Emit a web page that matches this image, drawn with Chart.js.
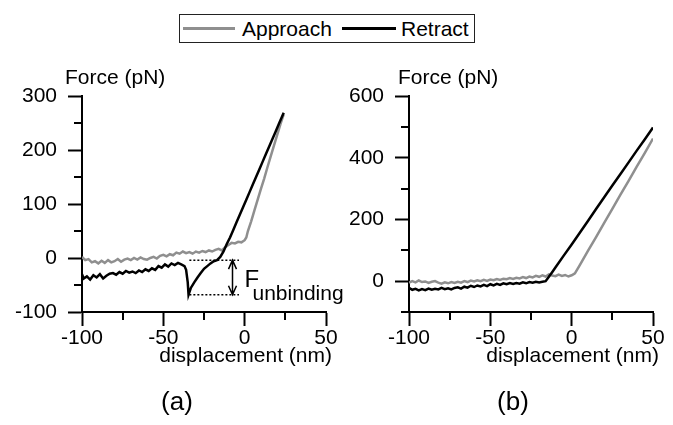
<!DOCTYPE html>
<html>
<head>
<meta charset="utf-8">
<script src="https://cdn.jsdelivr.net/npm/chart.js@4/dist/chart.umd.min.js"></script>
<style>
html,body{margin:0;padding:0;background:#fff;width:673px;height:425px;overflow:hidden;font-family:"Liberation Sans",Arial,sans-serif;}
#cA{position:absolute;left:0;top:0;}
#cB{position:absolute;left:340px;top:0;}
#legend{position:absolute;left:179px;top:14px;width:296px;height:29px;box-sizing:border-box;border:1.5px solid #222;background:#fff;}
#legend .sw{position:absolute;top:12px;height:3px;}
#legend .lt{position:absolute;top:1px;font-size:21px;line-height:26px;color:#000;white-space:nowrap;}
</style>
</head>
<body>
<canvas id="cA" width="360" height="425"></canvas>
<canvas id="cB" width="333" height="425"></canvas>
<div id="legend">
  <span class="sw" style="left:3px;width:52px;background:#8f8f8f"></span><span class="lt" style="left:62px">Approach</span>
  <span class="sw" style="left:162px;width:54px;background:#000"></span><span class="lt" style="left:221px">Retract</span>
</div>
<script>
// ---------- data ----------
const seriesNames = ['Approach', 'Retract'];

// panel (a)
const xA_approach = [-100,-98,-96,-94,-92,-90,-88,-86,-84,-82,-80,-78,-76,-74,-72,-70,-68,-66,-64,-62,-60,-58,-56,-54,-52,-50,-48,-46,-44,-42,-40,-38,-36,-34,-32,-30,-28,-26,-24,-22,-20,-18,-16,-14,-12,-10,-8,-6,-4,-2,0,1,2,4,6,8,10,12,14,16,18,20,22,24];
const yA_approach = [2,-4,-2,-8,-6,-10,-5,-9,-4,-8,-6,-2,-7,-3,-1,-4,0,-3,1,-2,-3,0,2,-1,4,6,3,7,5,10,8,12,9,11,8,12,10,13,11,14,12,15,17,14,20,24,28,27,30,29,33,38,50,68,88,108,128,147,168,188,208,228,248,266];
const xA_retract = [-100,-99,-97,-95,-93,-91,-89,-87,-85,-83,-81,-79,-77,-75,-73,-71,-69,-67,-65,-63,-61,-59,-57,-55,-53,-51,-49,-47,-45,-43,-41,-39,-37,-36,-35,-34.5,-33,-31,-29,-27,-25,-23,-21,-19,-17,-15,-13,-11,-9,-7,-5,-3,-1,1,3,5,7,9,11,13,15,17,19,21,23,24];
const yA_retract = [-30,-38,-34,-40,-32,-36,-30,-38,-33,-29,-28,-31,-26,-29,-24,-27,-25,-28,-23,-26,-21,-24,-19,-22,-15,-18,-12,-16,-10,-13,-9,-12,-15,-22,-45,-68,-55,-45,-36,-28,-20,-15,-10,-6,-4,2,12,26,38,52,66,80,94,108,122,136,150,164,178,192,206,220,234,248,262,269];

// panel (b)
const xB_approach = [-100,-98,-96,-94,-92,-90,-88,-86,-84,-82,-80,-78,-76,-74,-72,-70,-68,-66,-64,-62,-60,-58,-56,-54,-52,-50,-48,-46,-44,-42,-40,-38,-36,-34,-32,-30,-28,-26,-24,-22,-20,-18,-16,-14,-12,-10,-8,-6,-4,-2,0,1,2,5,10,15,20,25,30,35,40,45,50];
const yB_approach = [-5,0,-4,2,-3,-1,-6,-2,0,-5,-8,-4,-7,-3,-6,-2,-5,0,-3,2,-1,3,0,4,1,5,3,7,4,8,6,10,7,11,9,13,10,15,12,17,14,19,15,22,18,16,21,17,20,15,19,22,25,52,98,143,189,234,280,325,371,416,462];
const xB_retract = [-100,-98,-96,-94,-92,-90,-88,-86,-84,-82,-80,-78,-76,-74,-72,-70,-68,-66,-64,-62,-60,-58,-56,-54,-52,-50,-48,-46,-44,-42,-40,-38,-36,-34,-32,-30,-28,-26,-24,-22,-20,-18,-16,-14,-12,-10,-5,0,5,10,15,20,25,30,35,40,45,50];
const yB_retract = [-22,-28,-25,-30,-26,-29,-24,-28,-25,-27,-22,-26,-23,-27,-22,-20,-24,-18,-21,-15,-19,-14,-17,-12,-16,-10,-14,-9,-12,-7,-10,-6,-9,-6,-8,-4,-7,-3,-5,-2,-4,-2,0,14,29,44,82,119,157,195,234,272,310,347,385,423,460,498];

// axes / ticks
const xTicks = [-100,-50,0,50];
const xMinor = [-75,-25,25];
const yTicksA = [-100,0,100,200,300];
const yMinorA = [-50,50,150,250];
const yTicksB = [0,200,400,600];
const yMinorB = [-100,100,300,500];

// annotation (a): unbinding force
const annot = {arrowX: -8, top: -4, bottom: -68, dotFrom: -34, dotTo: -3.5};

// ---------- drawing ----------
const FONT = '"Liberation Sans", Arial, sans-serif';
const GRAY = '#8f8f8f';

function pts(xs, ys){ return xs.map((x,i)=>({x:x, y:ys[i]})); }

const decor = {
  id: 'decor',
  afterDraw(chart, args, o){
    const ctx = chart.ctx, ca = chart.chartArea, xs = chart.scales.x, ys = chart.scales.y;
    ctx.save();
    ctx.strokeStyle = '#000'; ctx.lineWidth = 2;
    ctx.beginPath();
    o.xMinor.forEach(v=>{ const p = Math.round(xs.getPixelForValue(v)); ctx.moveTo(p, ca.bottom); ctx.lineTo(p, ca.bottom+8); });
    o.yMinor.forEach(v=>{ const p = Math.round(ys.getPixelForValue(v)); ctx.moveTo(ca.left, p); ctx.lineTo(ca.left-8, p); });
    ctx.stroke();
    ctx.fillStyle = '#000';
    ctx.textBaseline = 'alphabetic';
    ctx.font = '21px ' + FONT;
    ctx.textAlign = 'left';
    ctx.fillText(o.yTitle, ca.left + o.yTitleDx, ca.top - 12);
    ctx.textAlign = 'right';
    ctx.fillText(o.xTitle, ca.right + 6, ca.bottom + 50);
    ctx.textAlign = 'center';
    ctx.font = '26px ' + FONT;
    ctx.fillText(o.panel, o.panelX, 410);
    if (o.annot){
      const a = o.annot;
      const ax = Math.round(xs.getPixelForValue(a.arrowX)) + 0.5;
      const yt = ys.getPixelForValue(a.top), yb = ys.getPixelForValue(a.bottom);
      const d0 = xs.getPixelForValue(a.dotFrom), d1 = xs.getPixelForValue(a.dotTo);
      ctx.lineWidth = 1.5;
      ctx.setLineDash([2,2]);
      ctx.beginPath();
      ctx.moveTo(d0, yt); ctx.lineTo(d1, yt);
      ctx.moveTo(d0, yb); ctx.lineTo(d1, yb);
      ctx.stroke();
      ctx.setLineDash([]);
      ctx.beginPath();
      ctx.moveTo(ax, yt); ctx.lineTo(ax, yb);
      ctx.moveTo(ax-4, yt+9); ctx.lineTo(ax, yt); ctx.lineTo(ax+4, yt+9);
      ctx.moveTo(ax-4, yb-9); ctx.lineTo(ax, yb); ctx.lineTo(ax+4, yb-9);
      ctx.stroke();
      ctx.textAlign = 'left';
      ctx.font = '24px ' + FONT;
      ctx.fillText('F', ax + 12, yb - 8);
      ctx.font = '21px ' + FONT;
      ctx.fillText('unbinding', ax + 20, yb + 5);
    }
    ctx.restore();
  }
};

function axisCommon(){
  return {
    grid: {drawOnChartArea: false, drawTicks: true, tickLength: 14, tickWidth: 2, tickColor: '#000'},
    border: {display: true, width: 2, color: '#000'}
  };
}

function makeChart(id, c){
  const xc = axisCommon(), yc = axisCommon();
  return new Chart(document.getElementById(id), {
    type: 'line',
    data: {datasets: [
      {label: seriesNames[0], data: pts(c.xa, c.ya), borderColor: GRAY, borderWidth: 2.5, pointRadius: 0, tension: 0, order: 1},
      {label: seriesNames[1], data: pts(c.xr, c.yr), borderColor: '#000', borderWidth: 2.5, pointRadius: 0, tension: 0, order: 0}
    ]},
    options: {
      responsive: false, animation: false, events: [],
      layout: {padding: {left: 0, right: c.padR, top: 96, bottom: 0}},
      plugins: {
        legend: {display: false}, tooltip: {enabled: false},
        decor: {xMinor: xMinor, yMinor: c.yMinor, yTitle: 'Force (pN)', yTitleDx: c.yTitleDx,
                xTitle: 'displacement (nm)', panel: c.panel, panelX: c.panelX, annot: c.annot}
      },
      scales: {
        x: Object.assign(xc, {
          type: 'linear', min: -100, max: 50,
          afterBuildTicks: s => { s.ticks = xTicks.map(v=>({value: v})); },
          afterFit: s => { s.height = 113; },
          ticks: {color: '#000', font: {size: 21, family: FONT}, padding: 0, maxRotation: 0, autoSkip: false}
        }),
        y: Object.assign(yc, {
          type: 'linear', min: c.yMin, max: c.yMax,
          afterBuildTicks: s => { s.ticks = c.yTicks.map(v=>({value: v})); },
          afterFit: s => { s.width = c.yW; },
          ticks: {color: '#000', font: {size: 21, family: FONT}, padding: 11, autoSkip: false}
        })
      }
    },
    plugins: [decor]
  });
}

makeChart('cA', {xa: xA_approach, ya: yA_approach, xr: xA_retract, yr: yA_retract,
  yMin: -100, yMax: 300, yTicks: yTicksA, yMinor: yMinorA, yW: 82, padR: 34,
  yTitleDx: -17, panel: '(a)', panelX: 177, annot: annot});
makeChart('cB', {xa: xB_approach, ya: yB_approach, xr: xB_retract, yr: yB_retract,
  yMin: -100, yMax: 600, yTicks: yTicksB, yMinor: yMinorB, yW: 69, padR: 20,
  yTitleDx: -11, panel: '(b)', panelX: 173, annot: null});
</script>
</body>
</html>
